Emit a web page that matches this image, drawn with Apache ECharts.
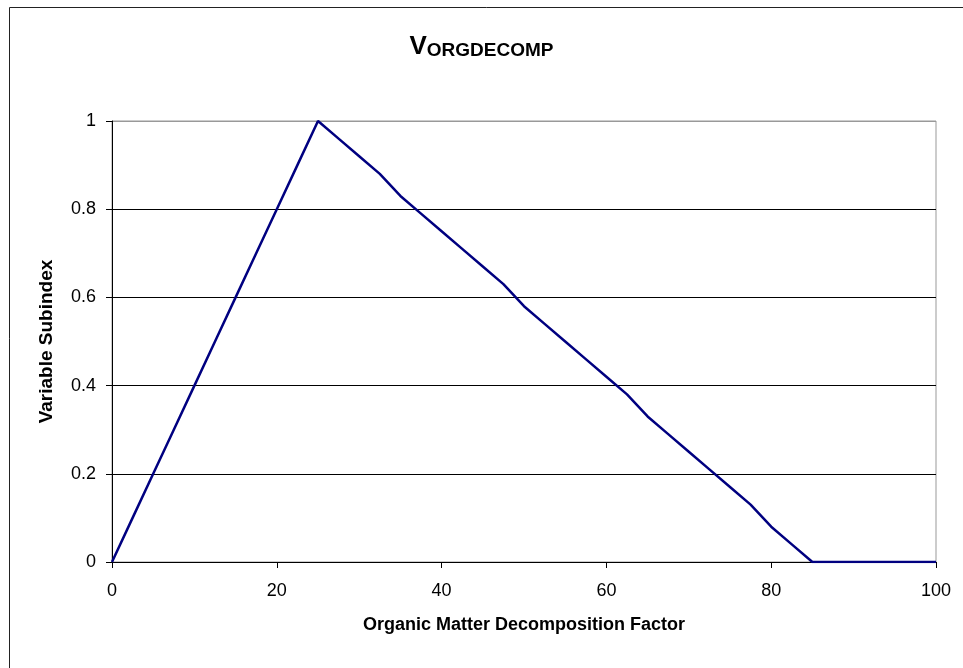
<!DOCTYPE html>
<html>
<head>
<meta charset="utf-8">
<script src="https://cdn.jsdelivr.net/npm/echarts@6/dist/echarts.min.js"></script>
<style>html,body{margin:0;padding:0;background:#fff;}#c{width:963px;height:668px;}</style>
</head>
<body>
<div id="c"></div>
<script>
const xValues = [0,2.5,5,7.5,10,12.5,15,17.5,20,22.5,25,27.5,30,32.5,35,37.5,40,42.5,45,47.5,50,52.5,55,57.5,60,62.5,65,67.5,70,72.5,75,77.5,80,82.5,85,87.5,90,92.5,95,97.5,100];
const yValues = [0,0.1,0.2,0.3,0.4,0.5,0.6,0.7,0.8,0.9,1.0,0.96,0.92,0.88,0.83,0.79,0.75,0.71,0.67,0.63,0.58,0.54,0.5,0.46,0.42,0.38,0.33,0.29,0.25,0.21,0.17,0.13,0.08,0.04,0,0,0,0,0,0,0];
const titleMain = 'V';
const titleRest = 'ORGDECOMP';
const xName = 'Organic Matter Decomposition Factor';
const yName = 'Variable Subindex';

const chart = echarts.init(document.getElementById('c'));
const font = 'Liberation Sans, Arial, sans-serif';
chart.setOption({
  animation: false,
  backgroundColor: '#fff',
  graphic: [{
    type: 'rect', shape: {x: 9.5, y: 7.5, width: 1000, height: 700},
    style: {fill: 'none', stroke: '#222', lineWidth: 1}, silent: true, z: -1
  }],
  title: {
    text: '{a|' + titleMain + '}{b|' + titleRest + '}',
    left: 'center', top: 29,
    textStyle: {
      rich: {
        a: {fontFamily: font, fontWeight: 'bold', fontSize: 26, color: '#000'},
        b: {fontFamily: font, fontWeight: 'bold', fontSize: 19, color: '#000', verticalAlign: 'bottom'}
      }
    }
  },
  grid: {left: 112, right: 27, top: 121, bottom: 106, show: true, borderColor: '#999', borderWidth: 1},
  xAxis: {
    type: 'value', min: 0, max: 100, interval: 20,
    name: xName, nameLocation: 'middle', nameGap: 54,
    nameTextStyle: {fontFamily: font, fontWeight: 'bold', fontSize: 18, color: '#000'},
    axisLine: {show: true, lineStyle: {color: '#000', width: 1}},
    axisTick: {show: true, inside: false, length: 6, lineStyle: {color: '#000'}},
    axisLabel: {fontFamily: font, fontSize: 18, color: '#000', margin: 20},
    splitLine: {show: false}
  },
  yAxis: {
    type: 'value', min: 0, max: 1, interval: 0.2,
    name: yName, nameLocation: 'middle', nameGap: 56,
    nameTextStyle: {fontFamily: font, fontWeight: 'bold', fontSize: 19, color: '#000'},
    axisLine: {show: true, lineStyle: {color: '#000', width: 1}},
    axisTick: {show: true, inside: false, length: 6, lineStyle: {color: '#000'}},
    axisLabel: {fontFamily: font, fontSize: 18, color: '#000', margin: 16},
    splitLine: {show: true, lineStyle: {color: ['#000','#000','#000','#000','#000','#999'], width: 1}}
  },
  series: [{
    type: 'line',
    data: xValues.map((x, i) => [x, yValues[i]]),
    showSymbol: false,
    lineStyle: {color: '#000080', width: 2.5},
    itemStyle: {color: '#000080'}
  }]
});
</script>
</body>
</html>
